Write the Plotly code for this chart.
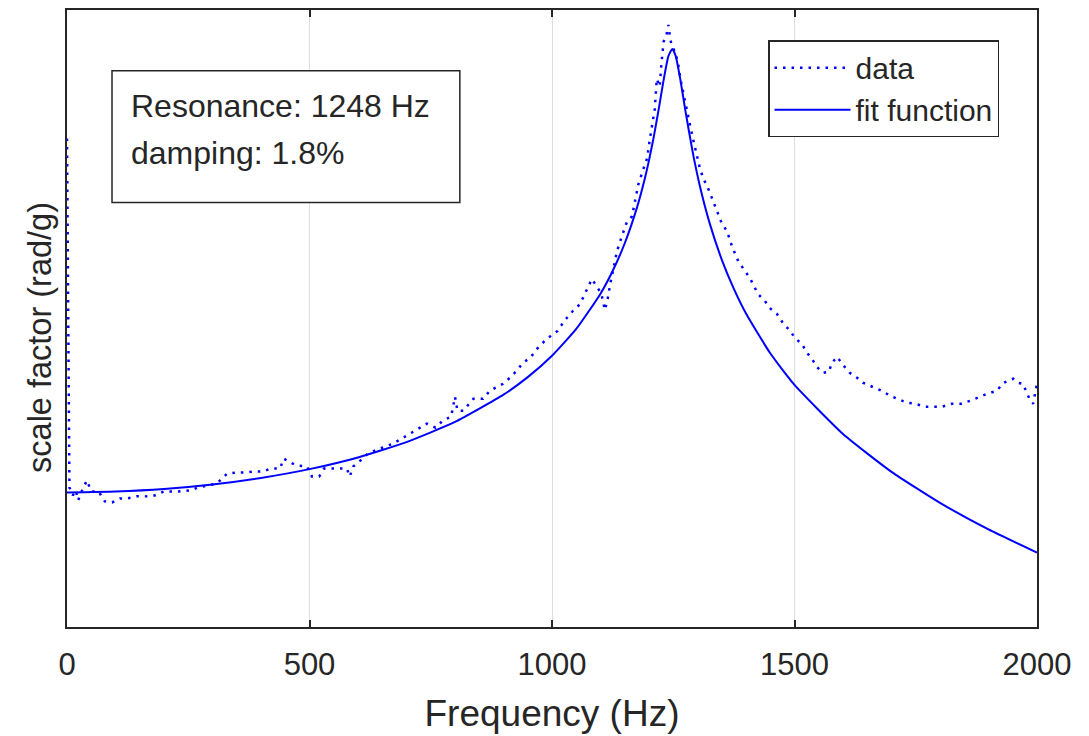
import plotly.graph_objects as go

# ---- data (log-scaled y, arbitrary units, DC level ~ 1) ----
data_freq = [0, 5, 12, 18, 23, 30, 41, 50, 65, 78, 93, 109, 123, 144, 161, 181, 200, 230, 255, 270,
             290, 309, 320, 330, 350, 367, 384, 404, 420, 439, 447, 460, 475, 495, 505, 520, 530, 555,
             577, 583, 590, 605, 620, 645, 672, 690, 710, 728, 742, 760, 775, 792, 800, 805, 817, 838,
             858, 872, 899, 913, 927, 940, 955, 969, 985, 1000, 1012, 1025, 1043, 1058, 1072, 1082, 1092,
             1102, 1109, 1114, 1120, 1126, 1134, 1144, 1155, 1165, 1171, 1178, 1188, 1196, 1202, 1212,
             1216, 1222, 1226, 1230, 1236, 1240, 1244, 1248, 1254, 1260, 1266, 1272, 1278, 1284, 1292,
             1299, 1305, 1312, 1322, 1330, 1336, 1342, 1350, 1361, 1371, 1384, 1398, 1408, 1425, 1439,
             1449, 1464, 1476, 1491, 1501, 1515, 1526, 1536, 1546, 1559, 1571, 1577, 1588, 1598, 1614,
             1629, 1641, 1662, 1680, 1697, 1714, 1732, 1748, 1769, 1786, 1804, 1825, 1845, 1862, 1878,
             1897, 1918, 1928, 1940, 1951, 1961, 1971, 1979, 1986, 1992, 2000]
data_scale = [14.19, 1.038, 0.978, 1.015, 0.942, 1.008, 1.094, 1.008, 1.008, 0.935, 0.928, 0.956, 0.956,
              0.971, 0.971, 0.978, 1.008, 1.008, 1.015, 1.038, 1.054, 1.070, 1.110, 1.152, 1.161, 1.161,
              1.170, 1.170, 1.196, 1.196, 1.289, 1.251, 1.223, 1.214, 1.127, 1.127, 1.196, 1.196, 1.196,
              1.127, 1.214, 1.270, 1.338, 1.389, 1.442, 1.497, 1.565, 1.625, 1.675, 1.625, 1.713, 1.765,
              2.049, 1.845, 1.845, 2.018, 2.018, 2.143, 2.258, 2.361, 2.488, 2.641, 2.742, 2.933, 3.113,
              3.257, 3.356, 3.615, 3.895, 4.105, 4.591, 4.947, 4.695, 4.423, 3.925, 4.198, 4.766, 5.253,
              6.099, 6.823, 7.632, 7.922, 8.859, 10.06, 11.25, 12.22, 14.19, 17.75, 22.21, 20.93, 25.22,
              29.29, 30.86, 33.25, 29.73, 28.21, 27.18, 24.85, 21.72, 19.42, 17.36, 15.87, 13.87, 12.40,
              11.34, 10.52, 9.763, 9.063, 8.536, 8.041, 7.516, 7.081, 6.331, 5.658, 5.253, 4.984, 4.423,
              4.198, 3.984, 3.809, 3.561, 3.356, 3.184, 3.044, 2.847, 2.722, 2.564, 2.451, 2.470, 2.641,
              2.763, 2.622, 2.451, 2.361, 2.275, 2.208, 2.143, 2.064, 2.018, 1.959, 1.945, 1.901, 1.901,
              1.901, 1.945, 1.945, 1.988, 2.033, 2.096, 2.143, 2.258, 2.309, 2.344, 2.275, 2.258, 2.111,
              1.988, 1.945, 2.258]

fit_freq = [0, 100, 200, 300, 400, 500, 600, 700, 800, 900, 950, 1000, 1050, 1100, 1125, 1150, 1175,
            1190, 1200, 1210, 1220, 1230, 1240, 1248, 1255, 1265, 1275, 1290, 1305, 1325, 1350, 1375,
            1400, 1450, 1500, 1600, 1700, 1800, 1900, 2000]
fit_scale = [1.000, 1.007, 1.026, 1.061, 1.115, 1.191, 1.300, 1.458, 1.696, 2.081, 2.373, 2.785, 3.405,
             4.437, 5.258, 6.473, 8.440, 10.30, 12.05, 14.42, 17.68, 21.94, 26.32, 27.78, 26.38, 21.91,
             17.50, 12.84, 9.929, 7.528, 5.729, 4.597, 3.823, 2.838, 2.239, 1.550, 1.167, 0.925, 0.758,
             0.637]

x_ticks = [0, 500, 1000, 1500, 2000]
legend_names = ["data", "fit function"]
text_lines = ["Resonance: 1248 Hz", "damping: 1.8%"]
x_title = "Frequency (Hz)"
y_title = "scale factor (rad/g)"

FONT = "Liberation Sans, Arial, Helvetica, sans-serif"
TXT = "#262626"
BLUE = "#0000ff"

fig = go.Figure()
fig.add_trace(go.Scatter(x=data_freq, y=data_scale, mode="lines", name=legend_names[0],
                         line=dict(color=BLUE, width=2.5, dash="2.5px,6px")))
fig.add_trace(go.Scatter(x=fit_freq, y=fit_scale, mode="lines", name=legend_names[1],
                         line=dict(color=BLUE, width=2, shape="spline", smoothing=0.5)))

fig.update_layout(
    width=1089, height=736,
    margin=dict(l=67, r=52, t=8, b=109),
    paper_bgcolor="white", plot_bgcolor="white",
    font=dict(family=FONT, color=TXT, size=30),
    showlegend=True,
    legend=dict(x=0.7227, y=0.951, xanchor="left", yanchor="top",
                bgcolor="white", bordercolor=TXT, borderwidth=1.5,
                font=dict(size=30, color=TXT), itemwidth=76,
                tracegroupgap=0),
    xaxis=dict(range=[0, 2000], tickvals=x_ticks, ticktext=[str(v) for v in x_ticks],
               showgrid=True, gridcolor="#dedede", gridwidth=1,
               showline=True, linecolor=TXT, linewidth=1.5, mirror="ticks",
               ticks="inside", ticklen=7, tickcolor=TXT, tickwidth=1.5,
               ticklabelstandoff=9,
               zeroline=False, tickfont=dict(size=31, color=TXT),
               title=dict(text=x_title, font=dict(size=37, color=TXT), standoff=19)),
    yaxis=dict(type="log", range=[-0.438, 1.5704], showticklabels=False, ticks="", showgrid=False,
               showline=True, linecolor=TXT, linewidth=1.5, mirror=True, zeroline=False),
)

# y-axis label (placed as rotated text to match the reference position)
fig.add_annotation(xref="paper", yref="paper", x=(40 - 67) / 970, y=(627 - 337) / 619,
                   xanchor="center", yanchor="middle", text=y_title, textangle=-90,
                   showarrow=False, font=dict(size=32.5, color=TXT, family=FONT))

# text box
fig.add_shape(type="rect", xref="paper", yref="paper", x0=0.0464, x1=0.405, y0=0.688, y1=0.9015,
              line=dict(color=TXT, width=1.5), fillcolor="white", layer="above")
fig.add_annotation(xref="paper", yref="paper", x=0.064, y=(627 - 104) / 619, xanchor="left",
                   yanchor="middle", text=text_lines[0], showarrow=False,
                   font=dict(size=32, color=TXT, family=FONT))
fig.add_annotation(xref="paper", yref="paper", x=0.064, y=(627 - 151) / 619, xanchor="left",
                   yanchor="middle", text=text_lines[1], showarrow=False,
                   font=dict(size=32, color=TXT, family=FONT))

fig.write_html("out.html")
